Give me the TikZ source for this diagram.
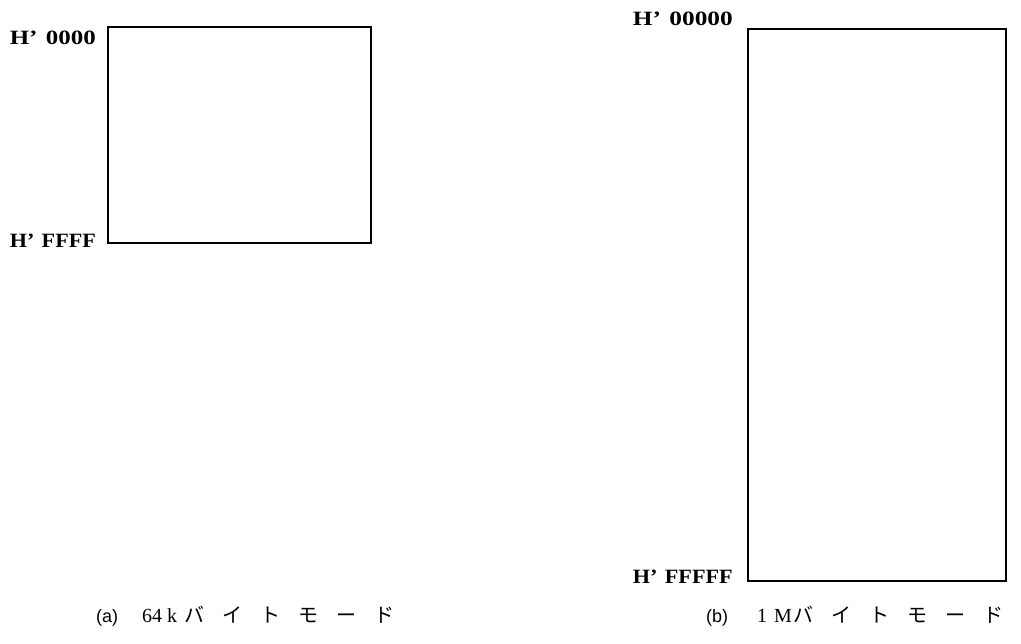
\documentclass[tikz,border=0pt]{standalone}
\usepackage{fontspec}
\setmainfont{Liberation Serif}
\newfontfamily\cjk{Noto Sans CJK JP}
\newfontfamily\lsans{Liberation Sans}
\newcommand{\kana}[1]{{\cjk\fontsize{20}{22}\selectfont #1}}
\newcommand{\tag}[1]{{\lsans\fontsize{18}{20}\selectfont #1}}
\begin{document}
\begin{tikzpicture}[x=1pt,y=-1pt,
  membox/.style={draw,line width=2.3pt},
  addr/.style={font=\bfseries,inner sep=0pt,anchor=base east},
  captext/.style={font=\fontsize{20}{22}\selectfont,inner sep=0pt,anchor=base west}]
\useasboundingbox (0,0) rectangle (1021,644);
\fill[white] (0,0) rectangle (1021,644);
\draw[membox] (108,27) rectangle (371,243);
\node (a0) [addr] at (96,45) {\resizebox{86pt}{13.5pt}{H'\,\,0000}};
\node (a1) [addr] at (96,248) {\resizebox{86pt}{13.5pt}{H'\,\,FFFF}};
\draw[membox] (748,29) rectangle (1006,581);
\node (b0) [addr] at (733,26) {\resizebox{100pt}{13.5pt}{H'\,\,00000}};
\node (b1) [addr] at (733,583) {\resizebox{100pt}{13.5pt}{H'\,\,FFFFF}};
\node (ca) [captext] at (96,622) {\tag{(a)}\hspace{24pt}64\hspace{5pt}k\hspace{7pt}\kana{バ\hspace{18pt}イ\hspace{18pt}ト\hspace{18pt}モ\hspace{18pt}ー\hspace{18pt}ド}};
\node (cb) [captext] at (706,622) {\tag{(b)}\hspace{29pt}1\hspace{7pt}M\hspace{2pt}\kana{バ\hspace{18pt}イ\hspace{18pt}ト\hspace{18pt}モ\hspace{18pt}ー\hspace{18pt}ド}};
\end{tikzpicture}
\end{document}
